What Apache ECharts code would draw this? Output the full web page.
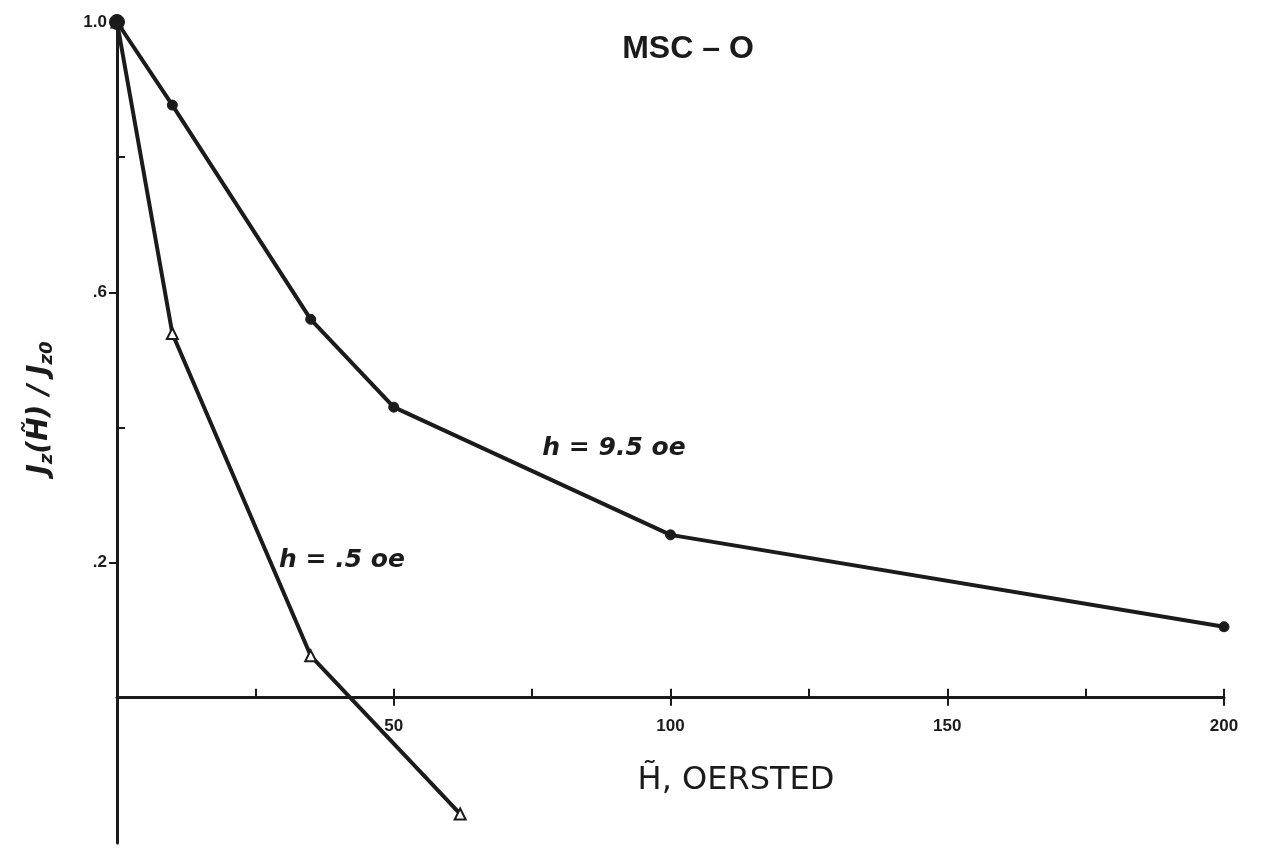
<!DOCTYPE html>
<html>
<head>
<meta charset="utf-8">
<style>
  html, body { margin: 0; padding: 0; background: #ffffff; }
  #chart { width: 1265px; height: 848px; }
</style>
<script src="https://cdn.jsdelivr.net/npm/echarts@6/dist/echarts.min.js"></script>
</head>
<body>
<div id="chart"></div>
<script>
// Field values in oersted and the normalised current ratio for each field amplitude
const fieldHigh = [0, 10, 35, 50, 100, 200];
const ratioHigh = [1.0, 0.877, 0.56, 0.43, 0.241, 0.105];
const fieldLow = [0, 10, 35, 62];
const ratioLow = [1.0, 0.539, 0.062, -0.172];

const seriesNames = ['h = 9.5 oe', 'h = .5 oe'];

// Axis ticks and labels
const xMajorTicks = [50, 100, 150, 200];
const xMinorTicks = [25, 75, 125, 175];
const xLabels = [50, 100, 150, 200];
const yMajorTicks = [0.2, 0.6, 1.0];
const yMinorTicks = [0.4, 0.8];
const yLabels = [0.2, 0.6, 1.0];

const ink = '#1b1b1b';
const chart = echarts.init(document.getElementById('chart'));

const pairs = (xs, ys) => xs.map((x, i) => [x, ys[i]]);

const xRange = { min: 0, max: 200 };
const yRange = { min: -0.215, max: 1.0 };

// Grid geometry: the horizontal axis sits on y = 0, lifted from the grid bottom
const gridTop = 22, gridBottom = 5, chartH = 848;
const plotH = chartH - gridTop - gridBottom;
const zeroLift = plotH * (0 - yRange.min) / (yRange.max - yRange.min);

chart.setOption({
  backgroundColor: '#ffffff',
  animation: false,
  title: [
    {
      text: 'MSC – O',
      left: 683, top: 28, textAlign: 'center',
      textStyle: { fontFamily: 'Liberation Sans', fontWeight: 'bold', fontSize: 32, color: ink }
    },
    {
      text: 'H\u0303, OERSTED',
      left: 731, top: 760, textAlign: 'center',
      textStyle: { fontFamily: 'DejaVu Sans', fontWeight: 'normal', fontSize: 32, color: ink }
    }
  ],
  grid: { left: 117, right: 41, top: gridTop, bottom: gridBottom, containLabel: false, outerBoundsMode: 'none' },
  xAxis: [
    {
      type: 'value', ...xRange, position: 'bottom', offset: -zeroLift,
      axisLine: { onZero: false, lineStyle: { color: ink, width: 3 } },
      axisTick: { show: true, inside: false, length: 8, customValues: xMajorTicks, lineStyle: { color: ink, width: 2 } },
      axisLabel: { customValues: xLabels, color: ink, fontFamily: 'Liberation Sans', fontWeight: 'bold', fontSize: 17, margin: 20 },
      splitLine: { show: false }
    },
    {
      type: 'value', ...xRange, position: 'bottom', offset: -zeroLift,
      axisLine: { show: false, onZero: false },
      axisTick: { show: true, inside: true, length: 9, customValues: xMinorTicks.concat(xMajorTicks), lineStyle: { color: ink, width: 2 } },
      axisLabel: { show: false },
      splitLine: { show: false }
    }
  ],
  yAxis: [
    {
      type: 'value', ...yRange,
      axisLine: { onZero: false, lineStyle: { color: ink, width: 3 } },
      axisTick: { show: true, inside: false, length: 8, customValues: yMajorTicks, lineStyle: { color: ink, width: 2 } },
      axisLabel: {
        customValues: yLabels, color: ink, fontFamily: 'Liberation Sans', fontWeight: 'bold', fontSize: 17, margin: 10,
        formatter: v => (v >= 1 ? v.toFixed(1) : v.toFixed(1).replace(/^0/, ''))
      },
      splitLine: { show: false }
    },
    {
      type: 'value', ...yRange, position: 'left',
      axisLine: { show: false, onZero: false },
      axisTick: { show: true, inside: true, length: 8, customValues: yMinorTicks, lineStyle: { color: ink, width: 2 } },
      axisLabel: { show: false },
      splitLine: { show: false }
    }
  ],
  graphic: [
    {
      type: 'text', x: 40, y: 408, rotation: Math.PI / 2, originX: 0, originY: 0,
      style: {
        text: '{m|J}{s|z}{m|(H\u0303) / J}{s|z0}',
        align: 'center', verticalAlign: 'middle',
        rich: {
          m: { fontFamily: 'DejaVu Sans', fontStyle: 'italic', fontWeight: 'bold', fontSize: 28, fill: ink },
          s: { fontFamily: 'DejaVu Sans', fontStyle: 'italic', fontWeight: 'bold', fontSize: 18, fill: ink, padding: [14, 0, 0, 0] }
        }
      }
    },
    {
      type: 'text', x: 614, y: 448,
      style: {
        text: seriesNames[0], align: 'center', verticalAlign: 'middle',
        font: 'italic bold 25px "DejaVu Sans"', fill: ink
      }
    },
    {
      type: 'text', x: 342, y: 560,
      style: {
        text: seriesNames[1], align: 'center', verticalAlign: 'middle',
        font: 'italic bold 25px "DejaVu Sans"', fill: ink
      }
    }
  ],
  series: [
    {
      name: seriesNames[1], type: 'line',
      xAxisIndex: 0, yAxisIndex: 0,
      data: pairs(fieldLow, ratioLow),
      symbol: 'triangle', symbolSize: 11,
      lineStyle: { color: ink, width: 4 },
      itemStyle: { color: '#ffffff', borderColor: ink, borderWidth: 2 },
      z: 3
    },
    {
      name: seriesNames[0], type: 'line',
      xAxisIndex: 0, yAxisIndex: 0,
      data: pairs(fieldHigh, ratioHigh),
      symbol: 'circle',
      symbolSize: (val, params) => (params.dataIndex === 0 ? 15 : 10),
      lineStyle: { color: ink, width: 4 },
      itemStyle: { color: ink, borderColor: ink, borderWidth: 1 },
      z: 4
    }
  ]
});
</script>
</body>
</html>
